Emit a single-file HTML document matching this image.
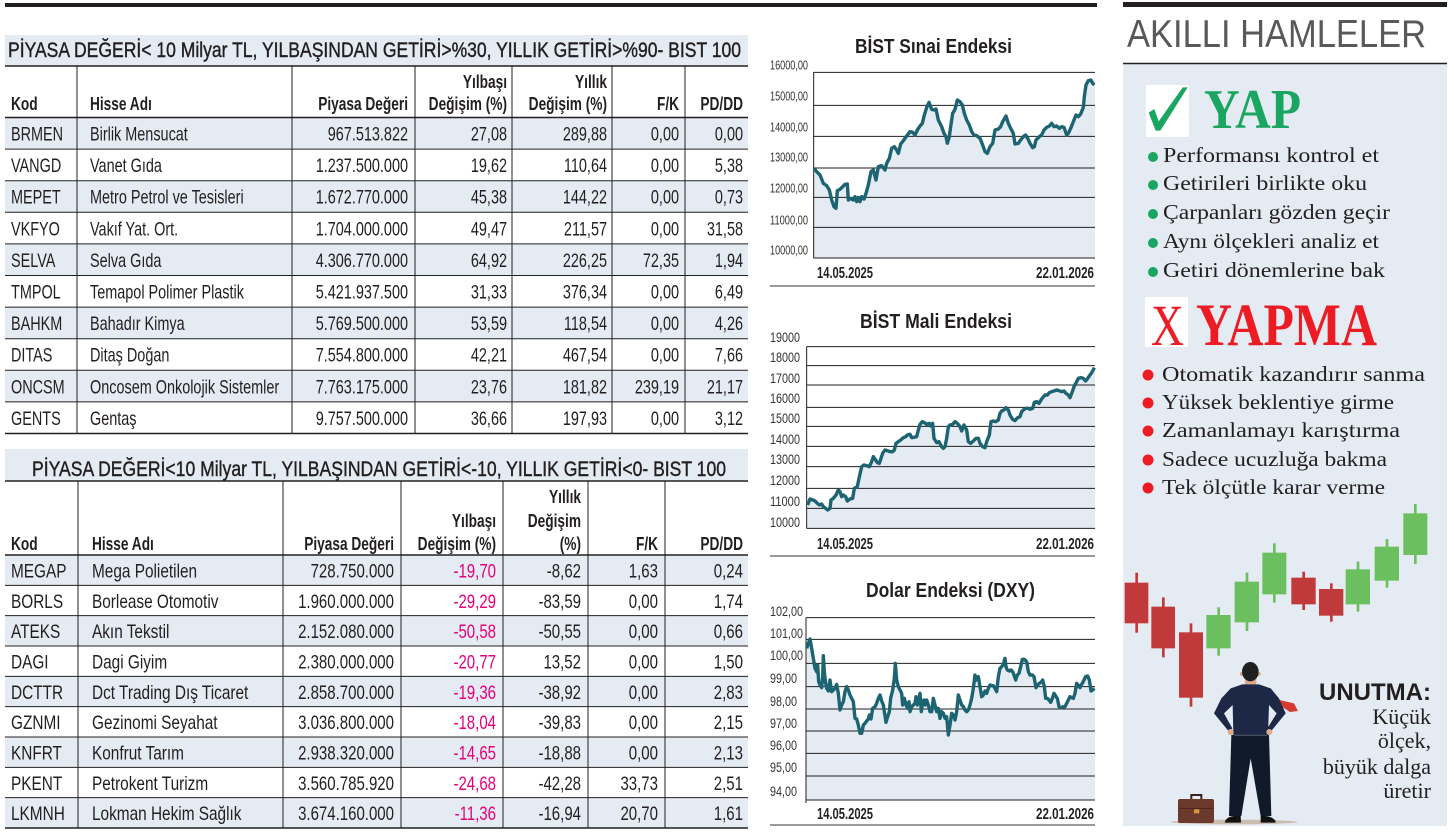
<!DOCTYPE html>
<html>
<head>
<meta charset="utf-8">
<style>
html,body{margin:0;padding:0;background:#fff;}
body{width:1454px;height:834px;overflow:hidden;}
svg{display:block;}
text{font-family:"Liberation Sans",sans-serif;}
.serif{font-family:"Liberation Serif",serif;}
</style>
</head>
<body>
<svg width="1454" height="834" viewBox="0 0 1454 834" xmlns="http://www.w3.org/2000/svg">
<rect width="1454" height="834" fill="#fff"/>
<!-- top bars -->
<rect x="5" y="3" width="1092" height="4" fill="#231f20"/>
<rect x="1123" y="2" width="324" height="5" fill="#231f20"/>

<!-- ================= TABLE 1 ================= -->
<rect x="5" y="35" width="743" height="31" fill="#e4ebf2"/>
<text x="8" y="57" font-size="21" fill="#231f20" stroke="#231f20" stroke-width="0.4" textLength="733" lengthAdjust="spacingAndGlyphs">PİYASA DEĞERİ&lt; 10 Milyar TL, YILBAŞINDAN GETİRİ&gt;%30, YILLIK GETİRİ&gt;%90- BIST 100</text>
<g fill="#e4ebf2">
<rect x="5" y="117.5" width="743" height="31.6"/>
<rect x="5" y="180.7" width="743" height="31.6"/>
<rect x="5" y="243.9" width="743" height="31.6"/>
<rect x="5" y="307.1" width="743" height="31.6"/>
<rect x="5" y="370.3" width="743" height="31.6"/>
</g>
<g stroke="#231f20" stroke-width="1">
<line x1="5" y1="149.1" x2="748" y2="149.1"/>
<line x1="5" y1="180.7" x2="748" y2="180.7"/>
<line x1="5" y1="212.3" x2="748" y2="212.3"/>
<line x1="5" y1="243.9" x2="748" y2="243.9"/>
<line x1="5" y1="275.5" x2="748" y2="275.5"/>
<line x1="5" y1="307.1" x2="748" y2="307.1"/>
<line x1="5" y1="338.7" x2="748" y2="338.7"/>
<line x1="5" y1="370.3" x2="748" y2="370.3"/>
<line x1="5" y1="401.9" x2="748" y2="401.9"/>
<line x1="77" y1="66" x2="77" y2="433.5"/>
<line x1="292" y1="66" x2="292" y2="433.5"/>
<line x1="415" y1="66" x2="415" y2="433.5"/>
<line x1="512" y1="66" x2="512" y2="433.5"/>
<line x1="612" y1="66" x2="612" y2="433.5"/>
<line x1="685" y1="66" x2="685" y2="433.5"/>
</g>
<g stroke="#231f20" stroke-width="1.6">
<line x1="5" y1="66" x2="748" y2="66"/>
<line x1="5" y1="117.5" x2="748" y2="117.5"/>
<line x1="5" y1="433.5" x2="748" y2="433.5"/>
</g>
<!-- header t1 -->
<g font-size="18.5" font-weight="bold" fill="#231f20">
<g transform="translate(11 0) scale(.74 1)"><text y="110">Kod</text></g>
<g transform="translate(90 0) scale(.74 1)"><text y="110">Hisse Adı</text></g>
<g transform="translate(408 0) scale(.74 1)" text-anchor="end"><text y="110">Piyasa Değeri</text></g>
<g transform="translate(507 0) scale(.74 1)" text-anchor="end"><text y="88">Yılbaşı</text><text y="110">Değişim (%)</text></g>
<g transform="translate(607 0) scale(.74 1)" text-anchor="end"><text y="88">Yıllık</text><text y="110">Değişim (%)</text></g>
<g transform="translate(679 0) scale(.74 1)" text-anchor="end"><text y="110">F/K</text></g>
<g transform="translate(743 0) scale(.74 1)" text-anchor="end"><text y="110">PD/DD</text></g>
</g>
<!-- cells t1 -->
<g font-size="19" fill="#231f20">
<g transform="translate(11 0) scale(.76 1)">
<text y="140.5">BRMEN</text><text y="172.1">VANGD</text><text y="203.7">MEPET</text><text y="235.3">VKFYO</text><text y="266.9">SELVA</text><text y="298.5">TMPOL</text><text y="330.1">BAHKM</text><text y="361.7">DITAS</text><text y="393.3">ONCSM</text><text y="424.9">GENTS</text>
</g>
<g transform="translate(90 0) scale(.76 1)">
<text y="140.5">Birlik Mensucat</text><text y="172.1">Vanet Gıda</text><text y="203.7">Metro Petrol ve Tesisleri</text><text y="235.3">Vakıf Yat. Ort.</text><text y="266.9">Selva Gıda</text><text y="298.5">Temapol Polimer Plastik</text><text y="330.1">Bahadır Kimya</text><text y="361.7">Ditaş Doğan</text><text y="393.3">Oncosem Onkolojik Sistemler</text><text y="424.9">Gentaş</text>
</g>
<g transform="translate(408 0) scale(.76 1)" text-anchor="end">
<text y="140.5">967.513.822</text><text y="172.1">1.237.500.000</text><text y="203.7">1.672.770.000</text><text y="235.3">1.704.000.000</text><text y="266.9">4.306.770.000</text><text y="298.5">5.421.937.500</text><text y="330.1">5.769.500.000</text><text y="361.7">7.554.800.000</text><text y="393.3">7.763.175.000</text><text y="424.9">9.757.500.000</text>
</g>
<g transform="translate(507 0) scale(.76 1)" text-anchor="end">
<text y="140.5">27,08</text><text y="172.1">19,62</text><text y="203.7">45,38</text><text y="235.3">49,47</text><text y="266.9">64,92</text><text y="298.5">31,33</text><text y="330.1">53,59</text><text y="361.7">42,21</text><text y="393.3">23,76</text><text y="424.9">36,66</text>
</g>
<g transform="translate(607 0) scale(.76 1)" text-anchor="end">
<text y="140.5">289,88</text><text y="172.1">110,64</text><text y="203.7">144,22</text><text y="235.3">211,57</text><text y="266.9">226,25</text><text y="298.5">376,34</text><text y="330.1">118,54</text><text y="361.7">467,54</text><text y="393.3">181,82</text><text y="424.9">197,93</text>
</g>
<g transform="translate(679 0) scale(.76 1)" text-anchor="end">
<text y="140.5">0,00</text><text y="172.1">0,00</text><text y="203.7">0,00</text><text y="235.3">0,00</text><text y="266.9">72,35</text><text y="298.5">0,00</text><text y="330.1">0,00</text><text y="361.7">0,00</text><text y="393.3">239,19</text><text y="424.9">0,00</text>
</g>
<g transform="translate(743 0) scale(.76 1)" text-anchor="end">
<text y="140.5">0,00</text><text y="172.1">5,38</text><text y="203.7">0,73</text><text y="235.3">31,58</text><text y="266.9">1,94</text><text y="298.5">6,49</text><text y="330.1">4,26</text><text y="361.7">7,66</text><text y="393.3">21,17</text><text y="424.9">3,12</text>
</g>
</g>

<!-- ================= TABLE 2 ================= -->
<rect x="5" y="449" width="743" height="32" fill="#e4ebf2"/>
<text x="32" y="476" font-size="21" fill="#231f20" stroke="#231f20" stroke-width="0.4" textLength="694" lengthAdjust="spacingAndGlyphs">PİYASA DEĞERİ&lt;10 Milyar TL, YILBAŞINDAN GETİRİ&lt;-10, YILLIK GETİRİ&lt;0- BIST 100</text>
<g fill="#e4ebf2">
<rect x="5" y="555" width="743" height="30.33"/>
<rect x="5" y="615.67" width="743" height="30.33"/>
<rect x="5" y="676.33" width="743" height="30.33"/>
<rect x="5" y="737" width="743" height="30.33"/>
<rect x="5" y="797.67" width="743" height="30.33"/>
</g>
<g stroke="#231f20" stroke-width="1">
<line x1="5" y1="585.33" x2="748" y2="585.33"/>
<line x1="5" y1="615.67" x2="748" y2="615.67"/>
<line x1="5" y1="646" x2="748" y2="646"/>
<line x1="5" y1="676.33" x2="748" y2="676.33"/>
<line x1="5" y1="706.67" x2="748" y2="706.67"/>
<line x1="5" y1="737" x2="748" y2="737"/>
<line x1="5" y1="767.33" x2="748" y2="767.33"/>
<line x1="5" y1="797.67" x2="748" y2="797.67"/>
<line x1="78" y1="481" x2="78" y2="828"/>
<line x1="283" y1="481" x2="283" y2="828"/>
<line x1="401" y1="481" x2="401" y2="828"/>
<line x1="503" y1="481" x2="503" y2="828"/>
<line x1="588" y1="481" x2="588" y2="828"/>
<line x1="665" y1="481" x2="665" y2="828"/>
</g>
<g stroke="#231f20" stroke-width="1.6">
<line x1="5" y1="481" x2="748" y2="481"/>
<line x1="5" y1="555" x2="748" y2="555"/>
<line x1="5" y1="828" x2="748" y2="828"/>
</g>
<g font-size="18.5" font-weight="bold" fill="#231f20">
<g transform="translate(11 0) scale(.74 1)"><text y="550">Kod</text></g>
<g transform="translate(92 0) scale(.74 1)"><text y="550">Hisse Adı</text></g>
<g transform="translate(394 0) scale(.74 1)" text-anchor="end"><text y="550">Piyasa Değeri</text></g>
<g transform="translate(496 0) scale(.74 1)" text-anchor="end"><text y="527">Yılbaşı</text><text y="550">Değişim (%)</text></g>
<g transform="translate(581 0) scale(.74 1)" text-anchor="end"><text y="503">Yıllık</text><text y="527">Değişim</text><text y="550">(%)</text></g>
<g transform="translate(658 0) scale(.74 1)" text-anchor="end"><text y="550">F/K</text></g>
<g transform="translate(743 0) scale(.74 1)" text-anchor="end"><text y="550">PD/DD</text></g>
</g>
<g font-size="19" fill="#231f20">
<g transform="translate(11 0) scale(.81 1)">
<text y="577.5">MEGAP</text><text y="607.8">BORLS</text><text y="638.2">ATEKS</text><text y="668.5">DAGI</text><text y="698.8">DCTTR</text><text y="729.2">GZNMI</text><text y="759.5">KNFRT</text><text y="789.8">PKENT</text><text y="820.2">LKMNH</text>
</g>
<g transform="translate(92 0) scale(.81 1)">
<text y="577.5">Mega Polietilen</text><text y="607.8">Borlease Otomotiv</text><text y="638.2">Akın Tekstil</text><text y="668.5">Dagi Giyim</text><text y="698.8">Dct Trading Dış Ticaret</text><text y="729.2">Gezinomi Seyahat</text><text y="759.5">Konfrut Tarım</text><text y="789.8">Petrokent Turizm</text><text y="820.2">Lokman Hekim Sağlık</text>
</g>
<g transform="translate(394 0) scale(.79 1)" text-anchor="end">
<text y="577.5">728.750.000</text><text y="607.8">1.960.000.000</text><text y="638.2">2.152.080.000</text><text y="668.5">2.380.000.000</text><text y="698.8">2.858.700.000</text><text y="729.2">3.036.800.000</text><text y="759.5">2.938.320.000</text><text y="789.8">3.560.785.920</text><text y="820.2">3.674.160.000</text>
</g>
<g transform="translate(496 0) scale(.79 1)" text-anchor="end" fill="#e5007d">
<text y="577.5">-19,70</text><text y="607.8">-29,29</text><text y="638.2">-50,58</text><text y="668.5">-20,77</text><text y="698.8">-19,36</text><text y="729.2">-18,04</text><text y="759.5">-14,65</text><text y="789.8">-24,68</text><text y="820.2">-11,36</text>
</g>
<g transform="translate(581 0) scale(.79 1)" text-anchor="end">
<text y="577.5">-8,62</text><text y="607.8">-83,59</text><text y="638.2">-50,55</text><text y="668.5">13,52</text><text y="698.8">-38,92</text><text y="729.2">-39,83</text><text y="759.5">-18,88</text><text y="789.8">-42,28</text><text y="820.2">-16,94</text>
</g>
<g transform="translate(658 0) scale(.79 1)" text-anchor="end">
<text y="577.5">1,63</text><text y="607.8">0,00</text><text y="638.2">0,00</text><text y="668.5">0,00</text><text y="698.8">0,00</text><text y="729.2">0,00</text><text y="759.5">0,00</text><text y="789.8">33,73</text><text y="820.2">20,70</text>
</g>
<g transform="translate(743 0) scale(.79 1)" text-anchor="end">
<text y="577.5">0,24</text><text y="607.8">1,74</text><text y="638.2">0,66</text><text y="668.5">1,50</text><text y="698.8">2,83</text><text y="729.2">2,15</text><text y="759.5">2,13</text><text y="789.8">2,51</text><text y="820.2">1,61</text>
</g>
</g>

<!-- ================= CHART 1 ================= -->
<text x="855" y="53" font-size="20" font-weight="bold" fill="#231f20" textLength="157" lengthAdjust="spacingAndGlyphs">BİST Sınai Endeksi</text>
<g font-size="12.5" fill="#333">
<text x="770" y="69.5" textLength="38" lengthAdjust="spacingAndGlyphs">16000,00</text>
<text x="770" y="100.5" textLength="38" lengthAdjust="spacingAndGlyphs">15000,00</text>
<text x="770" y="131.5" textLength="38" lengthAdjust="spacingAndGlyphs">14000,00</text>
<text x="770" y="161.5" textLength="38" lengthAdjust="spacingAndGlyphs">13000,00</text>
<text x="770" y="192.5" textLength="38" lengthAdjust="spacingAndGlyphs">12000,00</text>
<text x="770" y="224.5" textLength="38" lengthAdjust="spacingAndGlyphs">11000,00</text>
<text x="770" y="254.5" textLength="38" lengthAdjust="spacingAndGlyphs">10000,00</text>
</g>
<g transform="translate(760 20) scale(0.333333)">
<polygon fill="#e4ebf2" points="162,714 162,445 170,455 180,465 190,490 200,497 208,510 215,540 222,560 228,565 232,512 240,508 248,500 255,493 262,492 265,540 270,535 280,540 285,530 290,545 295,532 300,545 305,530 312,537 318,520 325,495 333,455 340,450 348,480 355,440 365,437 375,450 380,430 388,415 395,385 403,380 410,390 415,400 422,372 430,362 440,348 450,335 458,337 465,345 472,330 480,318 487,310 493,285 500,262 507,247 515,268 522,270 528,267 535,300 540,310 545,320 552,340 558,350 562,370 568,350 572,320 578,280 585,268 592,240 600,245 607,255 613,280 620,300 628,315 635,335 642,345 650,347 660,355 668,375 675,395 682,400 690,380 698,370 705,330 715,327 722,320 728,305 738,288 745,310 752,325 760,340 765,372 775,370 782,360 790,350 797,345 803,355 810,370 818,383 823,380 828,360 838,350 845,345 852,330 860,322 868,318 875,310 882,320 890,318 898,325 905,320 912,322 920,345 925,340 932,325 940,305 948,285 955,290 962,282 970,262 973,230 978,195 985,182 993,180 998,190 1005,195 1005,714"/>
<g stroke="#231f20" stroke-width="1">
<line x1="160" y1="157" x2="1005" y2="157" vector-effect="non-scaling-stroke"/>
<line x1="160" y1="256" x2="1005" y2="256" vector-effect="non-scaling-stroke"/>
<line x1="160" y1="349" x2="1005" y2="349" vector-effect="non-scaling-stroke"/>
<line x1="160" y1="444" x2="1005" y2="444" vector-effect="non-scaling-stroke"/>
<line x1="160" y1="532" x2="1005" y2="532" vector-effect="non-scaling-stroke"/>
<line x1="160" y1="622" x2="1005" y2="622" vector-effect="non-scaling-stroke"/>
<line x1="160" y1="714" x2="1005" y2="714" vector-effect="non-scaling-stroke"/>
<line x1="161" y1="157" x2="161" y2="714" vector-effect="non-scaling-stroke"/>
</g>
<polyline fill="none" stroke="#1d6473" stroke-width="3.4" stroke-linejoin="round" vector-effect="non-scaling-stroke" points="162,445 170,455 180,465 190,490 200,497 208,510 215,540 222,560 228,565 232,512 240,508 248,500 255,493 262,492 265,540 270,535 280,540 285,530 290,545 295,532 300,545 305,530 312,537 318,520 325,495 333,455 340,450 348,480 355,440 365,437 375,450 380,430 388,415 395,385 403,380 410,390 415,400 422,372 430,362 440,348 450,335 458,337 465,345 472,330 480,318 487,310 493,285 500,262 507,247 515,268 522,270 528,267 535,300 540,310 545,320 552,340 558,350 562,370 568,350 572,320 578,280 585,268 592,240 600,245 607,255 613,280 620,300 628,315 635,335 642,345 650,347 660,355 668,375 675,395 682,400 690,380 698,370 705,330 715,327 722,320 728,305 738,288 745,310 752,325 760,340 765,372 775,370 782,360 790,350 797,345 803,355 810,370 818,383 823,380 828,360 838,350 845,345 852,330 860,322 868,318 875,310 882,320 890,318 898,325 905,320 912,322 920,345 925,340 932,325 940,305 948,285 955,290 962,282 970,262 973,230 978,195 985,182 993,180 998,190 1003,195"/>
</g>
<g font-size="16" font-weight="bold" fill="#231f20">
<text x="817" y="278" textLength="56" lengthAdjust="spacingAndGlyphs">14.05.2025</text>
<text x="1036" y="278" textLength="58" lengthAdjust="spacingAndGlyphs">22.01.2026</text>
</g>
<line x1="770" y1="286" x2="1095" y2="286" stroke="#333" stroke-width="1"/>

<!-- ================= CHART 2 ================= -->
<text x="860" y="328" font-size="20" font-weight="bold" fill="#231f20" textLength="152" lengthAdjust="spacingAndGlyphs">BİST Mali Endeksi</text>
<g font-size="14" fill="#333">
<text x="770" y="342" textLength="30" lengthAdjust="spacingAndGlyphs">19000</text>
<text x="770" y="362" textLength="30" lengthAdjust="spacingAndGlyphs">18000</text>
<text x="770" y="383" textLength="30" lengthAdjust="spacingAndGlyphs">17000</text>
<text x="770" y="403" textLength="30" lengthAdjust="spacingAndGlyphs">16000</text>
<text x="770" y="423" textLength="30" lengthAdjust="spacingAndGlyphs">15000</text>
<text x="770" y="444" textLength="30" lengthAdjust="spacingAndGlyphs">14000</text>
<text x="770" y="464" textLength="30" lengthAdjust="spacingAndGlyphs">13000</text>
<text x="770" y="485" textLength="30" lengthAdjust="spacingAndGlyphs">12000</text>
<text x="770" y="506" textLength="30" lengthAdjust="spacingAndGlyphs">11000</text>
<text x="770" y="527" textLength="30" lengthAdjust="spacingAndGlyphs">10000</text>
</g>
<g transform="translate(760 295) scale(0.333333)">
<polygon fill="#e4ebf2" points="141,700 143,630 150,612 158,615 165,618 172,625 178,630 185,627 190,635 197,640 203,645 210,640 213,615 220,610 228,600 235,585 240,590 245,605 250,600 257,605 262,618 270,612 278,610 283,580 292,575 297,550 305,515 312,510 320,512 328,515 335,500 340,485 347,495 352,503 358,505 363,490 368,475 375,465 382,467 390,470 398,470 403,465 408,445 415,440 422,435 430,428 437,425 442,420 450,418 455,428 462,427 470,425 475,405 480,388 487,380 493,383 500,388 508,385 512,393 518,385 522,430 530,443 537,440 545,455 550,460 555,455 560,430 565,395 570,390 578,388 585,380 592,385 600,395 605,408 612,390 620,405 625,440 632,445 640,438 648,430 655,430 660,445 668,455 675,458 680,440 688,420 693,380 700,378 707,380 715,375 720,355 725,348 732,345 738,338 745,345 750,360 757,372 765,377 773,368 780,365 785,350 790,345 797,340 805,340 810,343 818,340 823,322 830,320 837,325 843,315 848,308 855,300 862,300 868,293 875,290 882,288 890,285 897,287 905,290 912,288 918,295 925,300 930,308 937,290 942,275 950,260 955,250 963,248 970,250 977,258 983,250 990,240 997,230 1005,215 1005,700"/>
<g stroke="#231f20" stroke-width="1">
<line x1="140" y1="155" x2="1005" y2="155" vector-effect="non-scaling-stroke"/>
<line x1="140" y1="212" x2="1005" y2="212" vector-effect="non-scaling-stroke"/>
<line x1="140" y1="270" x2="1005" y2="270" vector-effect="non-scaling-stroke"/>
<line x1="140" y1="337" x2="1005" y2="337" vector-effect="non-scaling-stroke"/>
<line x1="140" y1="394" x2="1005" y2="394" vector-effect="non-scaling-stroke"/>
<line x1="140" y1="454" x2="1005" y2="454" vector-effect="non-scaling-stroke"/>
<line x1="140" y1="515" x2="1005" y2="515" vector-effect="non-scaling-stroke"/>
<line x1="140" y1="580" x2="1005" y2="580" vector-effect="non-scaling-stroke"/>
<line x1="140" y1="640" x2="1005" y2="640" vector-effect="non-scaling-stroke"/>
<line x1="140" y1="700" x2="1005" y2="700" vector-effect="non-scaling-stroke"/>
<line x1="140" y1="155" x2="140" y2="700" vector-effect="non-scaling-stroke"/>
</g>
<polyline fill="none" stroke="#1d6473" stroke-width="3.4" stroke-linejoin="round" vector-effect="non-scaling-stroke" points="143,630 150,612 158,615 165,618 172,625 178,630 185,627 190,635 197,640 203,645 210,640 213,615 220,610 228,600 235,585 240,590 245,605 250,600 257,605 262,618 270,612 278,610 283,580 292,575 297,550 305,515 312,510 320,512 328,515 335,500 340,485 347,495 352,503 358,505 363,490 368,475 375,465 382,467 390,470 398,470 403,465 408,445 415,440 422,435 430,428 437,425 442,420 450,418 455,428 462,427 470,425 475,405 480,388 487,380 493,383 500,388 508,385 512,393 518,385 522,430 530,443 537,440 545,455 550,460 555,455 560,430 565,395 570,390 578,388 585,380 592,385 600,395 605,408 612,390 620,405 625,440 632,445 640,438 648,430 655,430 660,445 668,455 675,458 680,440 688,420 693,380 700,378 707,380 715,375 720,355 725,348 732,345 738,338 745,345 750,360 757,372 765,377 773,368 780,365 785,350 790,345 797,340 805,340 810,343 818,340 823,322 830,320 837,325 843,315 848,308 855,300 862,300 868,293 875,290 882,288 890,285 897,287 905,290 912,288 918,295 925,300 930,308 937,290 942,275 950,260 955,250 963,248 970,250 977,258 983,250 990,240 997,230 1003,218"/>
</g>
<g font-size="16" font-weight="bold" fill="#231f20">
<text x="817" y="549" textLength="56" lengthAdjust="spacingAndGlyphs">14.05.2025</text>
<text x="1036" y="549" textLength="58" lengthAdjust="spacingAndGlyphs">22.01.2026</text>
</g>
<line x1="770" y1="556" x2="1095" y2="556" stroke="#333" stroke-width="1"/>

<!-- ================= CHART 3 ================= -->
<text x="866" y="597" font-size="20" font-weight="bold" fill="#231f20" textLength="169" lengthAdjust="spacingAndGlyphs">Dolar Endeksi (DXY)</text>
<g font-size="13.5" fill="#333">
<text x="770" y="616" textLength="33" lengthAdjust="spacingAndGlyphs">102,00</text>
<text x="770" y="638" textLength="33" lengthAdjust="spacingAndGlyphs">101,00</text>
<text x="770" y="660" textLength="33" lengthAdjust="spacingAndGlyphs">100,00</text>
<text x="770" y="683" textLength="27" lengthAdjust="spacingAndGlyphs">99,00</text>
<text x="770" y="706" textLength="27" lengthAdjust="spacingAndGlyphs">98,00</text>
<text x="770" y="728" textLength="27" lengthAdjust="spacingAndGlyphs">97,00</text>
<text x="770" y="750" textLength="27" lengthAdjust="spacingAndGlyphs">96,00</text>
<text x="770" y="772" textLength="27" lengthAdjust="spacingAndGlyphs">95,00</text>
<text x="770" y="796" textLength="27" lengthAdjust="spacingAndGlyphs">94,00</text>
</g>
<g transform="translate(760 565) scale(0.333333)">
<polygon fill="#e4ebf2" points="139,705 140,250 145,235 150,222 155,250 160,280 165,310 170,320 173,300 176,350 180,360 185,368 188,335 190,272 193,320 197,355 200,370 205,378 210,345 215,380 220,375 225,370 230,358 235,385 240,435 245,420 250,410 255,380 260,365 265,375 270,390 275,400 280,410 285,460 290,462 295,480 300,505 305,505 310,480 315,475 320,468 325,462 328,450 333,462 338,430 345,425 350,415 355,400 360,390 365,408 370,420 378,472 383,455 388,440 392,400 398,375 403,340 406,295 410,345 415,365 420,375 425,385 428,420 433,400 438,420 443,430 447,410 450,440 455,425 460,420 465,415 468,395 472,420 476,410 480,385 484,440 488,410 492,405 496,420 500,405 505,420 510,440 515,440 520,400 525,420 530,440 535,430 540,460 545,440 550,445 555,460 560,455 565,510 570,480 575,445 580,450 585,465 590,440 595,390 600,405 605,420 610,425 615,435 620,440 625,435 630,420 635,400 640,370 645,330 650,345 655,335 660,365 665,395 670,390 675,378 680,385 685,370 690,360 695,362 700,362 705,370 710,380 715,335 720,310 725,305 730,298 735,280 738,305 742,315 748,318 753,315 758,320 762,330 767,345 772,330 777,325 782,305 787,283 793,283 800,290 805,320 810,330 817,330 822,335 828,368 833,360 838,355 845,350 848,345 853,365 857,400 862,400 867,405 872,412 877,400 882,385 887,393 892,400 897,425 903,428 910,425 915,425 920,415 925,405 930,395 935,398 940,400 945,385 950,355 955,362 960,368 963,360 967,355 972,345 977,335 983,333 988,345 993,378 998,375 1005,370 1005,705"/>
<g stroke="#231f20" stroke-width="1">
<line x1="138" y1="158" x2="1005" y2="158" vector-effect="non-scaling-stroke"/>
<line x1="138" y1="223" x2="1005" y2="223" vector-effect="non-scaling-stroke"/>
<line x1="138" y1="295" x2="1005" y2="295" vector-effect="non-scaling-stroke"/>
<line x1="138" y1="365" x2="1005" y2="365" vector-effect="non-scaling-stroke"/>
<line x1="138" y1="432" x2="1005" y2="432" vector-effect="non-scaling-stroke"/>
<line x1="138" y1="498" x2="1005" y2="498" vector-effect="non-scaling-stroke"/>
<line x1="138" y1="565" x2="1005" y2="565" vector-effect="non-scaling-stroke"/>
<line x1="138" y1="633" x2="1005" y2="633" vector-effect="non-scaling-stroke"/>
<line x1="138" y1="705" x2="1005" y2="705" vector-effect="non-scaling-stroke"/>
<line x1="138" y1="158" x2="138" y2="714" vector-effect="non-scaling-stroke"/>
</g>
<polyline fill="none" stroke="#1d6473" stroke-width="3.4" stroke-linejoin="round" vector-effect="non-scaling-stroke" points="140,250 145,235 150,222 155,250 160,280 165,310 170,320 173,300 176,350 180,360 185,368 188,335 190,272 193,320 197,355 200,370 205,378 210,345 215,380 220,375 225,370 230,358 235,385 240,435 245,420 250,410 255,380 260,365 265,375 270,390 275,400 280,410 285,460 290,462 295,480 300,505 305,505 310,480 315,475 320,468 325,462 328,450 333,462 338,430 345,425 350,415 355,400 360,390 365,408 370,420 378,472 383,455 388,440 392,400 398,375 403,340 406,295 410,345 415,365 420,375 425,385 428,420 433,400 438,420 443,430 447,410 450,440 455,425 460,420 465,415 468,395 472,420 476,410 480,385 484,440 488,410 492,405 496,420 500,405 505,420 510,440 515,440 520,400 525,420 530,440 535,430 540,460 545,440 550,445 555,460 560,455 565,510 570,480 575,445 580,450 585,465 590,440 595,390 600,405 605,420 610,425 615,435 620,440 625,435 630,420 635,400 640,370 645,330 650,345 655,335 660,365 665,395 670,390 675,378 680,385 685,370 690,360 695,362 700,362 705,370 710,380 715,335 720,310 725,305 730,298 735,280 738,305 742,315 748,318 753,315 758,320 762,330 767,345 772,330 777,325 782,305 787,283 793,283 800,290 805,320 810,330 817,330 822,335 828,368 833,360 838,355 845,350 848,345 853,365 857,400 862,400 867,405 872,412 877,400 882,385 887,393 892,400 897,425 903,428 910,425 915,425 920,415 925,405 930,395 935,398 940,400 945,385 950,355 955,362 960,368 963,360 967,355 972,345 977,335 983,333 988,345 993,378 998,375 1003,370"/>
</g>
<g font-size="16" font-weight="bold" fill="#231f20">
<text x="817" y="819" textLength="56" lengthAdjust="spacingAndGlyphs">14.05.2025</text>
<text x="1036" y="819" textLength="58" lengthAdjust="spacingAndGlyphs">22.01.2026</text>
</g>
<line x1="770" y1="825" x2="1095" y2="825" stroke="#333" stroke-width="1"/>

<!-- ================= RIGHT PANEL ================= -->
<text x="1127" y="47" font-size="39" fill="#58595b" textLength="299" lengthAdjust="spacingAndGlyphs">AKILLI HAMLELER</text>
<rect x="1123" y="64" width="324" height="762" fill="#e4ebf2"/>
<line x1="1123" y1="63.5" x2="1447" y2="63.5" stroke="#231f20" stroke-width="1.5"/>

<!-- YAP -->
<rect x="1146" y="85" width="43" height="52" fill="#fff"/>
<g transform="translate(1114 0) scale(0.333333)">
<path d="M104,338 L121,327 L134,364 L206,262 L221,262 L139,392 L125,392 Z" fill="#1aa661"/>
</g>
<text class="serif" x="1204" y="128" font-size="56" font-weight="bold" fill="#1aa661" textLength="97" lengthAdjust="spacingAndGlyphs">YAP</text>
<g fill="#1aa661">
<circle cx="1153" cy="157" r="5"/>
<circle cx="1153" cy="185" r="5"/>
<circle cx="1153" cy="214" r="5"/>
<circle cx="1153" cy="243" r="5"/>
<circle cx="1153" cy="272" r="5"/>
</g>
<g class="serif" font-size="21" fill="#231f20">
<text class="serif" x="1163" y="162" textLength="216" lengthAdjust="spacingAndGlyphs">Performansı kontrol et</text>
<text class="serif" x="1163" y="190" textLength="204" lengthAdjust="spacingAndGlyphs">Getirileri birlikte oku</text>
<text class="serif" x="1163" y="219" textLength="227" lengthAdjust="spacingAndGlyphs">Çarpanları gözden geçir</text>
<text class="serif" x="1163" y="248" textLength="216" lengthAdjust="spacingAndGlyphs">Aynı ölçekleri analiz et</text>
<text class="serif" x="1163" y="277" textLength="222" lengthAdjust="spacingAndGlyphs">Getiri dönemlerine bak</text>
</g>

<!-- YAPMA -->
<rect x="1145" y="297" width="43" height="50" fill="#fff"/>
<text class="serif" x="1151" y="345" font-size="58" fill="#ed1c24" textLength="33" lengthAdjust="spacingAndGlyphs">X</text>
<text class="serif" x="1196" y="345" font-size="60" font-weight="bold" fill="#ed1c24" textLength="181" lengthAdjust="spacingAndGlyphs">YAPMA</text>
<g fill="#ed1c24">
<circle cx="1148" cy="375" r="5.5"/>
<circle cx="1148" cy="403" r="5.5"/>
<circle cx="1148" cy="431" r="5.5"/>
<circle cx="1148" cy="460" r="5.5"/>
<circle cx="1148" cy="488" r="5.5"/>
</g>
<g font-size="21" fill="#231f20">
<text class="serif" x="1162" y="381" textLength="263" lengthAdjust="spacingAndGlyphs">Otomatik kazandırır sanma</text>
<text class="serif" x="1162" y="409" textLength="232" lengthAdjust="spacingAndGlyphs">Yüksek beklentiye girme</text>
<text class="serif" x="1162" y="437" textLength="238" lengthAdjust="spacingAndGlyphs">Zamanlamayı karıştırma</text>
<text class="serif" x="1162" y="466" textLength="225" lengthAdjust="spacingAndGlyphs">Sadece ucuzluğa bakma</text>
<text class="serif" x="1162" y="494" textLength="223" lengthAdjust="spacingAndGlyphs">Tek ölçütle karar verme</text>
</g>

<!-- candles + figure -->
<g transform="translate(1114 500) scale(0.333333)">
<g fill="#c0393b">
<rect x="64" y="218" width="8" height="180"/><rect x="32" y="248" width="71" height="122"/>
<rect x="144" y="292" width="8" height="180"/><rect x="112" y="320" width="71" height="125"/>
<rect x="227" y="370" width="8" height="250"/><rect x="195" y="397" width="72" height="196"/>
<rect x="565" y="215" width="8" height="115"/><rect x="532" y="233" width="73" height="80"/>
<rect x="648" y="250" width="8" height="115"/><rect x="615" y="267" width="73" height="80"/>
</g>
<g fill="#6cbf5f">
<rect x="310" y="322" width="8" height="145"/><rect x="277" y="345" width="73" height="100"/>
<rect x="395" y="218" width="8" height="175"/><rect x="362" y="245" width="73" height="122"/>
<rect x="477" y="130" width="8" height="178"/><rect x="445" y="158" width="72" height="125"/>
<rect x="728" y="185" width="8" height="150"/><rect x="695" y="208" width="73" height="105"/>
<rect x="815" y="117" width="8" height="146"/><rect x="782" y="140" width="73" height="102"/>
<rect x="900" y="12" width="8" height="180"/><rect x="868" y="40" width="72" height="125"/>
</g>
<!-- figure -->
<ellipse cx="360" cy="966" rx="190" ry="7" fill="#cbbcb0"/>
<rect x="192" y="897" width="108" height="72" rx="6" fill="#6b3a2c"/>
<path d="M232,897 L232,885 L262,885 L262,897" stroke="#3a2019" stroke-width="6" fill="none"/>
<line x1="195" y1="925" x2="298" y2="925" stroke="#4a261d" stroke-width="3"/>
<rect x="240" y="928" width="16" height="12" fill="#d49a3a"/>
<path d="M352,705 L465,705 L472,948 L440,948 L410,775 L382,948 L345,948 Z" fill="#111a2b"/>
<path d="M335,960 Q345,945 380,948 L381,968 L332,968 Z" fill="#111"/>
<path d="M440,948 Q472,946 484,962 L485,968 L440,968 Z" fill="#111"/>
<path d="M488,598 L540,610 L552,633 L528,636 L498,616 Z" fill="#d63a32"/>
<rect x="393" y="535" width="34" height="24" fill="#e0a98a"/>
<path d="M385,553 L435,553 L470,565 L495,595 L515,640 L470,695 L460,685 L488,640 L465,615 L462,705 L358,705 L356,615 L330,640 L355,685 L345,695 L300,640 L322,595 L350,565 Z" fill="#1c2846"/>
<line x1="360" y1="706" x2="460" y2="706" stroke="#444b5a" stroke-width="4"/>
<circle cx="350" cy="696" r="9" fill="#e0a98a"/>
<circle cx="466" cy="696" r="9" fill="#e0a98a"/>
<circle cx="384" cy="522" r="6" fill="#d8a084"/>
<circle cx="434" cy="522" r="6" fill="#d8a084"/>
<ellipse cx="409" cy="515" rx="25" ry="29" fill="#1f1f1f"/>
</g>

<text x="1319" y="700" font-size="24" font-weight="bold" fill="#231f20" textLength="112" lengthAdjust="spacingAndGlyphs">UNUTMA:</text>
<g class="serif" font-size="22" fill="#231f20" text-anchor="end">
<text class="serif" x="1431" y="724">Küçük</text>
<text class="serif" x="1431" y="748">ölçek,</text>
<text class="serif" x="1431" y="774">büyük dalga</text>
<text class="serif" x="1431" y="798">üretir</text>
</g>
</svg>
</body>
</html>
